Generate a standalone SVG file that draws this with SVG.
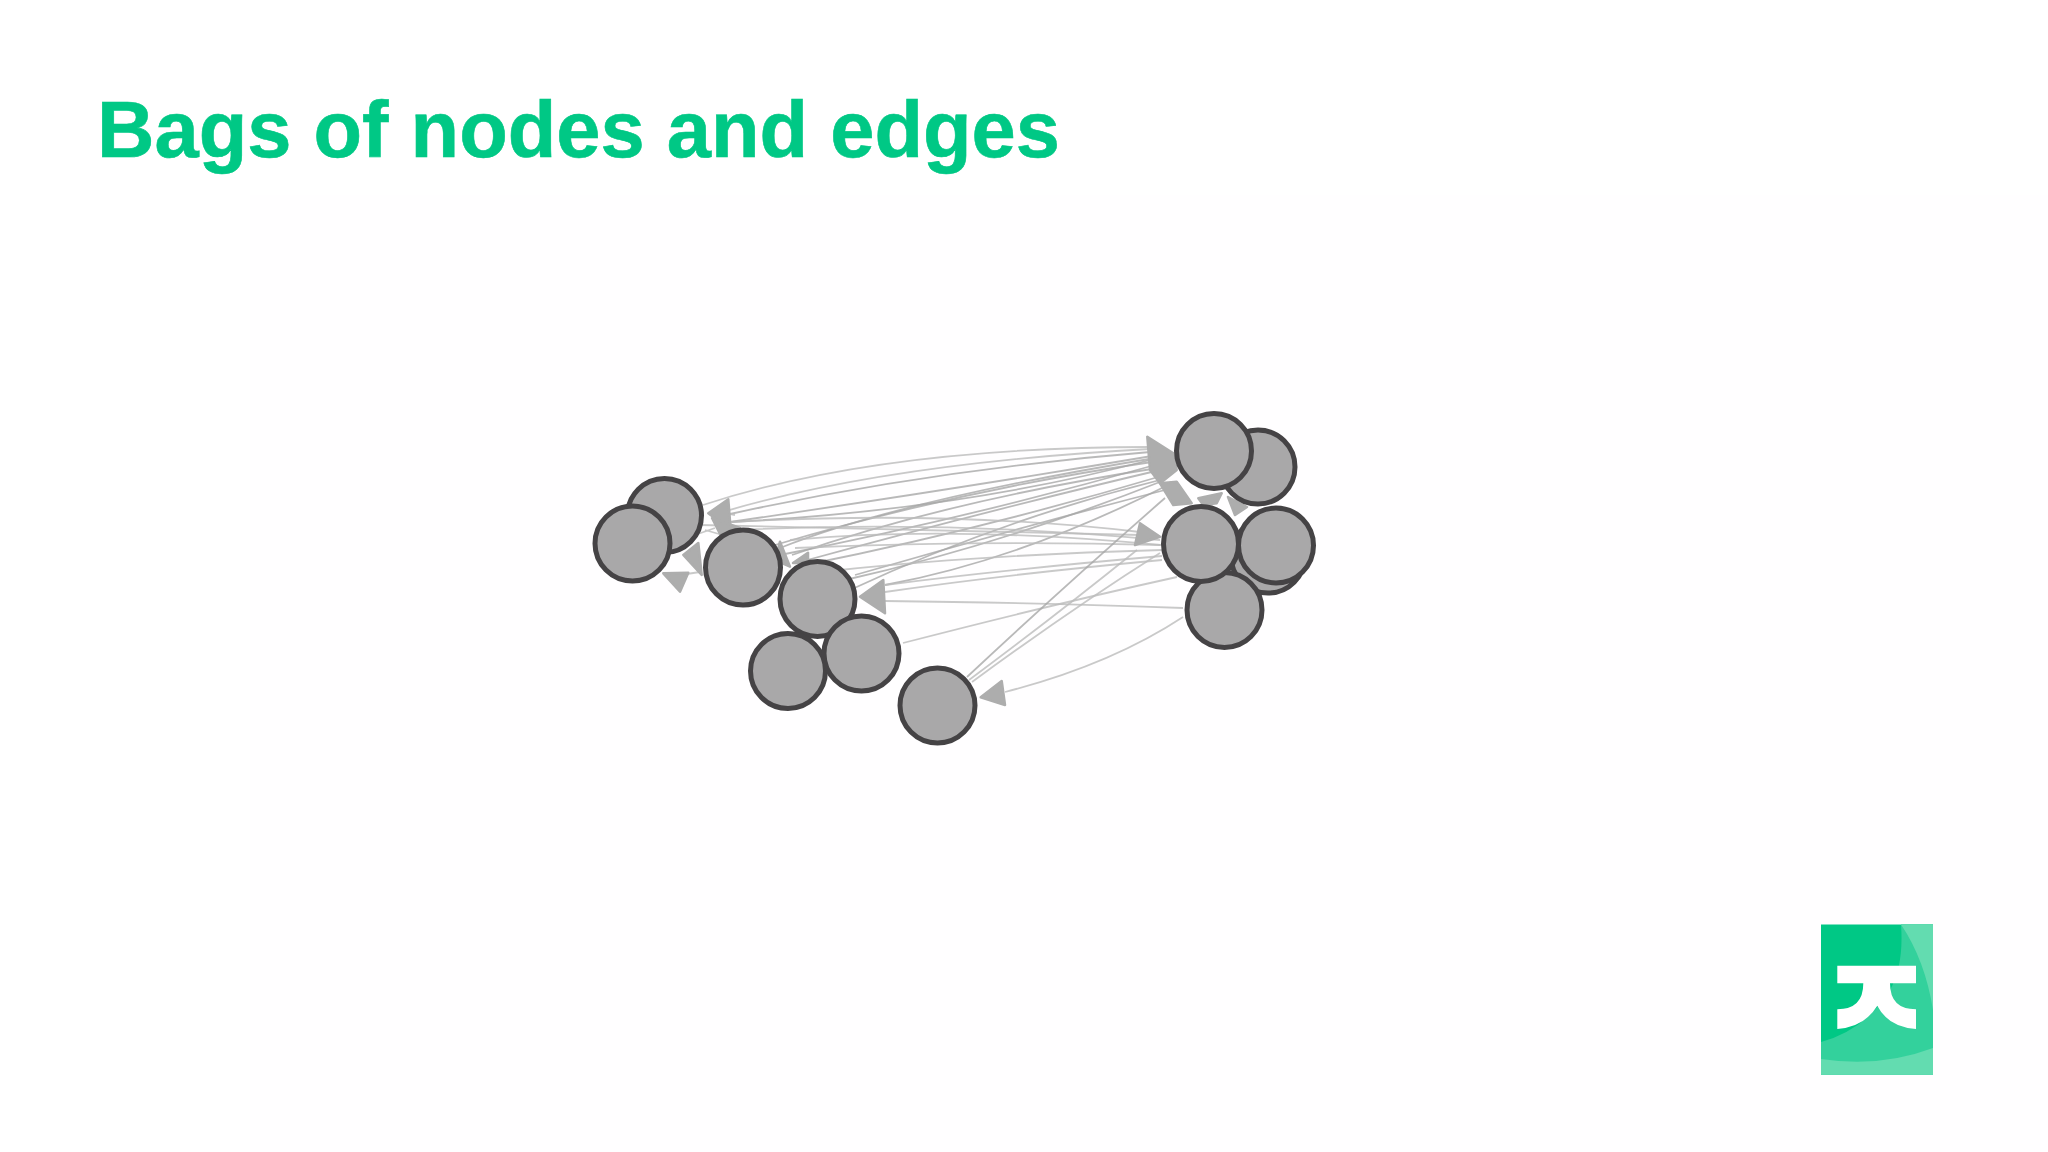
<svg xmlns="http://www.w3.org/2000/svg" width="2048" height="1152" viewBox="0 0 2048 1152">
<style>
.title{font-family:"Liberation Sans",Arial,sans-serif;font-weight:700;font-size:79.5px;fill:#00c885;stroke:#00c885;stroke-width:.6}
.n{fill:#a9a8a9;stroke:#454345;stroke-width:5}
.e{fill:none;stroke:#a8a8a8;stroke-width:1.8;opacity:.8}
.l{fill:none;stroke:#bbb;stroke-width:1.8;opacity:.8}
.h{fill:#adadad;stroke:#adadad;stroke-width:2.5;stroke-linejoin:round}
</style>
<rect width="2048" height="1152" fill="#fff"/>
<rect x="250" y="195" width="1798" height="957" fill="#fffeff"/>
<text class="title" x="97" y="157">Bags of nodes and edges</text>
<g id="connectors">
<path class="l" d="M703 505Q880 447 1150 447"/>
<path class="l" d="M726 511Q890 463 1150 449"/>
<path class="e" d="M730 514Q930 470 1150 452"/>
<path class="e" d="M730 522Q950 490 1152 456"/>
<path class="e" d="M732 522Q960 510 1150 460"/>
<path class="e" d="M775 545Q960 490 1152 462"/>
<path class="e" d="M780 555Q960 520 1155 465"/>
<path class="e" d="M800 562Q990 510 1160 470"/>
<path class="e" d="M805 565Q980 530 1165 475"/>
<path class="e" d="M845 580Q1000 545 1165 480"/>
<path class="e" d="M885 585Q1020 560 1168 485"/>
<path class="e" d="M855 575Q1010 530 1165 490"/>
<path class="e" d="M850 590Q1000 520 1160 480"/>
<path class="e" d="M780 548Q900 500 1155 458"/>
<path class="e" d="M792 555Q950 500 1158 468"/>
<path class="l" d="M730 522Q950 510 1140 532"/>
<path class="l" d="M700 525Q950 530 1140 535"/>
<path class="l" d="M790 540Q950 525 1160 545"/>
<path class="l" d="M735 530Q950 520 1160 540"/>
<path class="l" d="M1162 545Q980 540 795 548"/>
<path class="l" d="M1162 550Q980 555 840 570"/>
<path class="l" d="M1162 556Q1000 570 885 585"/>
<path class="l" d="M1162 560Q1000 575 885 592"/>
<path class="l" d="M1183 608Q1050 603 885 601"/>
<path class="l" d="M1177 577Q1050 605 903 643"/>
<path class="e" d="M967 677Q1060 590 1165 498"/>
<path class="l" d="M969 680Q1050 620 1137 550"/>
<path class="l" d="M972 682Q1070 610 1160 553"/>
<path class="l" d="M1183 617Q1110 665 1005 692"/>
<path class="l" d="M735 515L720 512M715 528L695 535M700 572L680 575M740 540L705 530"/>
<path class="h" d="M728.3 499.3L730.7 530L708.3 513.3Z"/>
<path class="h" d="M740 528L722 538L712 518Z"/>
<path class="h" d="M701.700 575L683.3 555L698.3 543Z"/>
<path class="h" d="M663.3 573.3L688.3 572.7L680 591.7Z"/>
<path class="h" d="M780 541.7L790 566.7L775 560Z"/>
<path class="h" d="M808 552.7L808 563L793 563Z"/>
<path class="h" d="M883.3 580L885 613.3L860 596.7Z"/>
<path class="h" d="M1147.3 436.7L1173.3 453.3L1176.7 470L1160 483.3L1150 470Z"/>
<path class="h" d="M1160 483.3L1176.7 481.7L1191.7 503.3L1173.3 505Z"/>
<path class="h" d="M1198.3 498.3L1221.7 493.3L1216.7 503.3L1203.3 505Z"/>
<path class="h" d="M1228 497L1247 507L1235 515Z"/>
<path class="h" d="M1140 523.3L1160 536.700L1135 545Z"/>
<path class="h" d="M1001.7 681L1005 705L980.7 697.3Z"/>
</g>
<g id="node-1"><circle class="n" cx="664.5" cy="515.5" r="37"/></g>
<g id="node-2"><circle class="n" cx="632.5" cy="543.5" r="37.500"/></g>
<g id="node-3"><circle class="n" cx="743" cy="567.5" r="37.5"/></g>
<g id="node-4"><circle class="n" cx="817.5" cy="599" r="37.5"/></g>
<g id="node-5"><circle class="n" cx="788" cy="671" r="37.5"/></g>
<g id="node-6"><circle class="n" cx="861.5" cy="653.5" r="37.5"/></g>
<g id="node-7"><circle class="n" cx="937.500" cy="705.5" r="37.5"/></g>
<g id="node-8"><circle class="n" cx="1258" cy="467" r="37"/></g>
<g id="node-9"><circle class="n" cx="1214" cy="451" r="37.5"/></g>
<g id="node-10"><circle class="n" cx="1268" cy="556" r="37"/></g>
<g id="node-11"><circle class="n" cx="1224.5" cy="610" r="37.5"/></g>
<g id="node-12"><circle class="n" cx="1201" cy="544" r="37.5"/></g>
<g id="node-13"><circle class="n" cx="1276" cy="545.5" r="37.5"/></g>
<g id="logo">
<rect x="1821" y="924.5" width="112" height="150" fill="#00c885"/>
<path d="M1821 1042Q1865 1030 1890 990Q1904 965 1901 924.5H1933V1074.5H1821Z" fill="#33d19c"/>
<path d="M1901 924.5Q1925 960 1933 1010V924.5ZM1821 1059Q1880 1068 1933 1048V1074.500H1821Z" fill="#63dcb0"/>
<path d="M1837.3 965.7H1916V983.3H1890Q1890 1009.3 1916 1009.3V1029Q1888 1027 1877.3 1005.7Q1865 1026.7 1837.3 1029V1009.300Q1863.300 1009.3 1863.300 983.3H1837.3Z" fill="#fff"/>
</g>
</svg>
